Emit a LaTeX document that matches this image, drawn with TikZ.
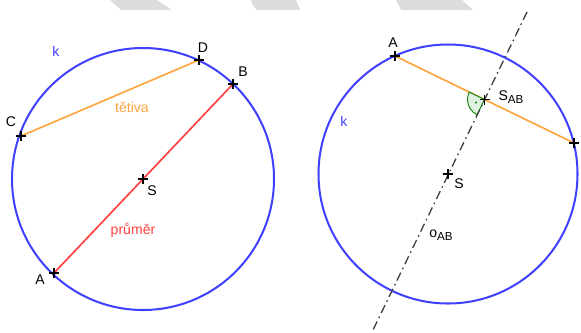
\documentclass[tikz,border=0pt]{standalone}
\usepackage{fontspec}
\setmainfont{Liberation Sans}
\definecolor{kblue}{RGB}{64, 64, 255}
\definecolor{chordorange}{RGB}{255, 165, 64}
\definecolor{diamred}{RGB}{255, 64, 64}
\definecolor{anggreen}{RGB}{0, 128, 0}
\definecolor{markgray}{RGB}{221, 221, 221}

\tikzset{
  kline/.style={draw=kblue, line width=1.15pt},
  chord/.style={draw=chordorange, line width=0.95pt},
  diam/.style={draw=diamred, line width=0.95pt},
  axisline/.style={draw=black!75, line width=0.75pt, dash pattern=on 5pt off 2.2pt on 0.9pt off 2.2pt},
  ptmark/.style={draw=black, line width=1.05pt},
  lbl/.style={inner sep=0pt, font=\fontsize{8}{9.5}\selectfont},
}
\newcommand{\plusmark}[1]{\draw[ptmark] (#1) +(-5,0) -- +(5,0) (#1) +(0,-5) -- +(0,5);}
\newcommand{\sub}[1]{\raisebox{-0.4ex}{\fontsize{6.6}{7}\selectfont #1}}

\begin{document}
\begin{tikzpicture}[x=0.02cm, y=-0.02cm]
    \useasboundingbox (0,0) rectangle (581,332);

    % grey marks at the top edge
    \fill[markgray] (110,0) -- (157,0) -- (172,10) -- (121,10) -- cycle;
    \fill[markgray] (251,0) -- (296,0) -- (300,10) -- (257,10) .. controls (253,6) .. cycle;
    \fill[markgray] (396,0) -- (462,0) -- (473,10) -- (401,10) -- cycle;

    % Left: circle k, chord and diameter
    \coordinate (S1) at (143,179);
    \coordinate (A1) at (54,273);
    \coordinate (B1) at (233,84);
    \coordinate (C1) at (21,136);
    \coordinate (D1) at (199,60);
    \draw[kline] (S1) circle (131);
    \draw[chord] (C1) -- (D1);
    \draw[diam] (A1) -- (B1);
    \foreach \p in {S1,A1,B1,C1,D1} {\plusmark{\p}}
    \node[lbl, text=kblue] (k1) at (56,51) {k};
    \node[lbl] (labA1) at (40,280) {A};
    \node[lbl] (labB1) at (243,72) {B};
    \node[lbl] (labC1) at (11,122) {C};
    \node[lbl] (labD1) at (203,48) {D};
    \node[lbl] (labS1) at (152,191) {S};
    \node[lbl, text=chordorange] (tetiva) at (132,107) {tětiva};
    \node[lbl, text=diamred] (prumer) at (133,230) {průměr};

    % Right: chord AB and its axis
    \coordinate (S2) at (448,174);
    \coordinate (A2) at (395,56);
    \coordinate (B2) at (574,143);
    \coordinate (SAB) at (484.5,99.5);
    \coordinate (oTop) at (527,12);
    \coordinate (oBot) at (372,332);
    \draw[kline] (S2) circle (129.5);
    \draw[chord] (A2) -- (B2);
    \filldraw[draw=anggreen, fill=anggreen!12, line width=0.5pt]
      (SAB) -- +(115.6:17) arc[start angle=115.6, end angle=205.8, radius=17] -- cycle;
    \fill[anggreen] (SAB) +(160.7:9) circle (1.1);
    \draw[axisline] (oTop) -- (oBot);
    \foreach \p in {S2,A2,B2,SAB} {\plusmark{\p}}
    \node[lbl, text=kblue] (k2) at (344,121) {k};
    \node[lbl] (labA2) at (393,43) {A};
    \node[lbl] (labSAB) at (511,97) {S\sub{AB}};
    \node[lbl] (labS2) at (459,184) {S};
    \node[lbl] (labo) at (441,235) {o\sub{AB}};
\end{tikzpicture}
\end{document}
